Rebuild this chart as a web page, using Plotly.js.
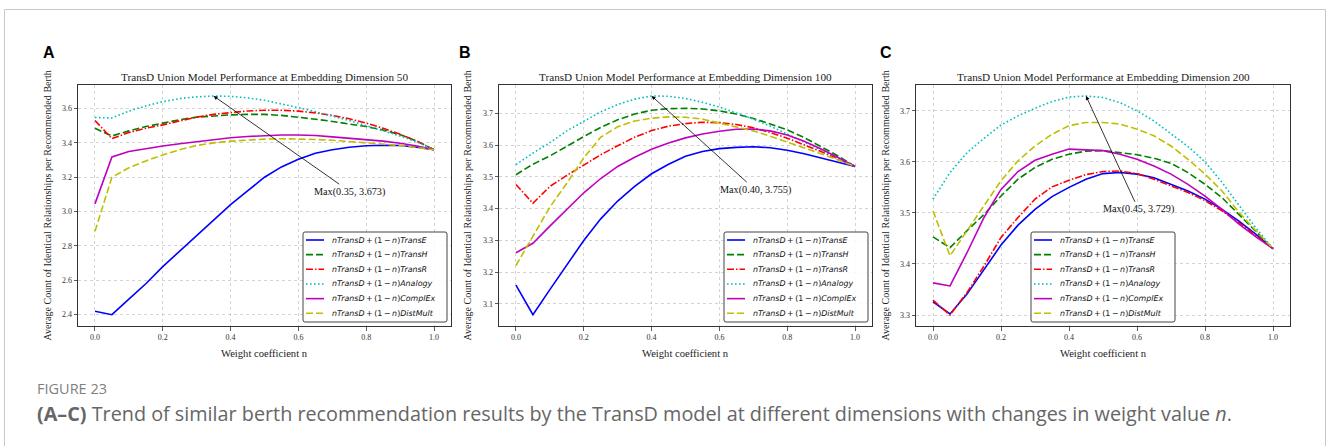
<!DOCTYPE html>
<html>
<head>
<meta charset="utf-8">
<script src="https://cdn.plot.ly/plotly-3.0.1.min.js"></script>
<style>html,body{margin:0;padding:0;background:#fff;}#chart{width:1328px;height:446px;}</style>
</head>
<body>
<div id="chart"></div>
<script>
// ---------------- DATA ----------------
const nValues = [0,0.05,0.1,0.15,0.2,0.25,0.3,0.35,0.4,0.45,0.5,0.55,0.6,0.65,0.7,0.75,0.8,0.85,0.9,0.95,1.0];

const seriesNames = ['TransE','TransH','TransR','Analogy','ComplEx','DistMult'];
const panelTitles = [
  'TransD Union Model Performance at Embedding Dimension 50',
  'TransD Union Model Performance at Embedding Dimension 100',
  'TransD Union Model Performance at Embedding Dimension 200'
];
const panelLetters = ['A','B','C'];
const maxPoints = [[0.35,3.673],[0.40,3.755],[0.45,3.729]];
const maxLabels = ['Max(0.35, 3.673)','Max(0.40, 3.755)','Max(0.45, 3.729)'];

// Dimension 50
const dim50TransE   = [2.42,2.40,2.49,2.58,2.68,2.77,2.86,2.95,3.04,3.12,3.20,3.26,3.305,3.34,3.36,3.375,3.383,3.386,3.385,3.375,3.36];
const dim50TransH   = [3.485,3.44,3.47,3.495,3.515,3.535,3.55,3.558,3.563,3.566,3.566,3.56,3.55,3.538,3.525,3.51,3.495,3.475,3.448,3.41,3.36];
const dim50TransR   = [3.53,3.425,3.46,3.485,3.505,3.528,3.55,3.566,3.578,3.586,3.59,3.59,3.585,3.575,3.56,3.54,3.515,3.485,3.45,3.41,3.36];
const dim50Analogy  = [3.548,3.545,3.585,3.615,3.64,3.658,3.668,3.673,3.671,3.662,3.648,3.628,3.605,3.582,3.558,3.53,3.50,3.47,3.44,3.405,3.36];
const dim50ComplEx  = [3.045,3.318,3.35,3.368,3.382,3.395,3.408,3.42,3.43,3.437,3.443,3.446,3.446,3.443,3.435,3.428,3.42,3.41,3.398,3.382,3.36];
const dim50DistMult = [2.885,3.20,3.255,3.295,3.33,3.36,3.385,3.40,3.41,3.418,3.422,3.424,3.424,3.42,3.415,3.408,3.40,3.393,3.385,3.373,3.36];

// Dimension 100
const dim100TransE   = [3.159,3.066,3.145,3.222,3.30,3.368,3.424,3.47,3.51,3.54,3.565,3.58,3.589,3.593,3.595,3.592,3.584,3.573,3.56,3.547,3.533];
const dim100TransH   = [3.507,3.54,3.566,3.597,3.627,3.656,3.68,3.698,3.71,3.715,3.716,3.714,3.708,3.698,3.684,3.667,3.648,3.624,3.596,3.566,3.533];
const dim100TransR   = [3.476,3.417,3.47,3.505,3.537,3.57,3.598,3.625,3.646,3.66,3.668,3.672,3.671,3.665,3.655,3.64,3.622,3.602,3.58,3.557,3.533];
const dim100Analogy  = [3.539,3.575,3.608,3.645,3.675,3.705,3.728,3.745,3.755,3.754,3.747,3.735,3.72,3.702,3.682,3.66,3.636,3.61,3.585,3.56,3.533];
const dim100ComplEx  = [3.261,3.291,3.345,3.398,3.45,3.495,3.533,3.562,3.587,3.607,3.623,3.635,3.644,3.65,3.651,3.645,3.632,3.612,3.588,3.561,3.533];
const dim100DistMult = [3.221,3.314,3.405,3.48,3.56,3.625,3.658,3.676,3.685,3.689,3.688,3.682,3.67,3.658,3.645,3.628,3.61,3.592,3.573,3.553,3.533];

// Dimension 200
const dim200TransE   = [3.326,3.302,3.341,3.39,3.437,3.476,3.507,3.532,3.55,3.566,3.577,3.579,3.576,3.569,3.556,3.543,3.527,3.507,3.484,3.458,3.43];
const dim200TransH   = [3.453,3.432,3.465,3.497,3.533,3.566,3.589,3.605,3.615,3.621,3.622,3.618,3.614,3.607,3.597,3.579,3.556,3.53,3.497,3.465,3.43];
const dim200TransR   = [3.329,3.30,3.344,3.396,3.452,3.491,3.527,3.551,3.564,3.575,3.581,3.582,3.577,3.566,3.553,3.54,3.524,3.504,3.481,3.455,3.43];
const dim200Analogy  = [3.527,3.579,3.618,3.646,3.672,3.69,3.705,3.718,3.727,3.729,3.726,3.716,3.70,3.68,3.655,3.63,3.60,3.56,3.515,3.47,3.43];
const dim200ComplEx  = [3.363,3.357,3.422,3.491,3.546,3.581,3.603,3.615,3.625,3.624,3.622,3.615,3.605,3.592,3.576,3.556,3.533,3.507,3.478,3.453,3.43];
const dim200DistMult = [3.504,3.416,3.465,3.514,3.563,3.602,3.631,3.654,3.671,3.677,3.677,3.674,3.664,3.651,3.631,3.605,3.576,3.543,3.501,3.465,3.43];

const panelData = [
  [dim50TransE, dim50TransH, dim50TransR, dim50Analogy, dim50ComplEx, dim50DistMult],
  [dim100TransE, dim100TransH, dim100TransR, dim100Analogy, dim100ComplEx, dim100DistMult],
  [dim200TransE, dim200TransH, dim200TransR, dim200Analogy, dim200ComplEx, dim200DistMult]
];

// ---------------- STYLE / LAYOUT ----------------
const W = 1328, H = 446;
const X = p => p / W;
const Y = p => 1 - p / H;

const styles = [
  {color:'#0000ff', dash:'solid'},
  {color:'#008000', dash:'7px,3px'},
  {color:'#ff0000', dash:'7px,2px,1.5px,2px'},
  {color:'#00bfbf', dash:'1.6px,2.4px'},
  {color:'#bf00bf', dash:'solid'},
  {color:'#bfbf00', dash:'7px,3px'}
];

const panels = [
  {x0:78,  x1:451,  yr:[2.334,3.737], dy:0.2, ylab:47,  letter:40.5, legX:303},
  {x0:499, x1:872,  yr:[3.0305,3.7895], dy:0.1, ylab:467, letter:457, legX:724},
  {x0:916, x1:1290, yr:[3.2785,3.7505], dy:0.1, ylab:885, letter:878, legX:1031}
];
const plotTop = 85, plotBot = 326;
const serif = 'Liberation Serif, Times New Roman, serif';
const TS = '\u2009';

const traces = [];
const layout = {
  width: W, height: H, autosize: false,
  margin: {l:0, r:0, t:0, b:0},
  paper_bgcolor: '#fff', plot_bgcolor: '#fff',
  showlegend: false,
  shapes: [], annotations: []
};

panels.forEach((pn, p) => {
  const sfx = p === 0 ? '' : String(p + 1);
  panelData[p].forEach((vals, s) => {
    traces.push({
      x: nValues, y: vals, type: 'scatter', mode: 'lines',
      xaxis: 'x' + sfx, yaxis: 'y' + sfx,
      line: {color: styles[s].color, width: 1.6, dash: styles[s].dash},
      hoverinfo: 'skip', showlegend: false
    });
  });
  const axCommon = {
    showline: true, mirror: true, linecolor: '#333', linewidth: 1,
    ticks: 'outside', ticklen: 3.5, tickcolor: '#333', tickwidth: 0.8,
    showgrid: true, gridcolor: '#c0c0c0', gridwidth: 0.7, griddash: 'dot',
    zeroline: false, tickfont: {family: serif, size: 8, color: '#333'},
    tickformat: '.1f', fixedrange: true
  };
  layout['xaxis' + sfx] = Object.assign({}, axCommon, {
    domain: [X(pn.x0), X(pn.x1)], range: [-0.05, 1.05], dtick: 0.2, tick0: 0,
    anchor: 'y' + sfx
  });
  layout['yaxis' + sfx] = Object.assign({}, axCommon, {
    domain: [Y(plotBot), Y(plotTop)], range: pn.yr, dtick: pn.dy, tick0: 0,
    anchor: 'x' + sfx
  });
  const cx = (pn.x0 + pn.x1) / 2;
  layout.annotations.push({xref:'paper', yref:'paper', x:X(cx), y:Y(77), text:panelTitles[p],
    showarrow:false, xanchor:'center', yanchor:'middle', font:{family:serif, size:11.2, color:'#222'}});
  layout.annotations.push({xref:'paper', yref:'paper', x:X(cx), y:Y(353), text:'Weight coefficient n',
    showarrow:false, xanchor:'center', yanchor:'middle', font:{family:serif, size:10.6, color:'#222'}});
  layout.annotations.push({xref:'paper', yref:'paper', x:X(pn.ylab), y:Y((plotTop+plotBot)/2),
    text:'Average Count of Identical Relationships per Recommended Berth', textangle:-90,
    showarrow:false, xanchor:'center', yanchor:'middle', font:{family:serif, size:10.1, color:'#222'}});
  layout.annotations.push({xref:'paper', yref:'paper', x:X(pn.letter), y:Y(52.5), text:'<b>'+panelLetters[p]+'</b>',
    showarrow:false, xanchor:'left', yanchor:'middle', font:{family:'Liberation Sans, Arial, sans-serif', size:16, color:'#000'}});
  const textPos = [[0.752,3.116],[0.705,3.46],[0.604,3.507]][p];
  layout.annotations.push({xref:'x'+sfx, yref:'y'+sfx, x:maxPoints[p][0], y:maxPoints[p][1],
    axref:'x'+sfx, ayref:'y'+sfx, ax:textPos[0], ay:textPos[1], text:maxLabels[p],
    showarrow:true, arrowhead:2, arrowsize:1, arrowwidth:0.8, arrowcolor:'#000',
    font:{family:serif, size:10.2, color:'#111'}});

  // legend
  const lx0 = pn.legX, lx1 = pn.legX + 144, ly0 = 232, ly1 = 322, r = 2;
  const rx = r / W, ry = r / H;
  const a = X(lx0), b = X(lx1), t = Y(ly0), u = Y(ly1);
  layout.shapes.push({type:'path', xref:'paper', yref:'paper',
    path:`M ${a+rx} ${t} L ${b-rx} ${t} Q ${b} ${t} ${b} ${t-ry} L ${b} ${u+ry} Q ${b} ${u} ${b-rx} ${u} L ${a+rx} ${u} Q ${a} ${u} ${a} ${u+ry} L ${a} ${t-ry} Q ${a} ${t} ${a+rx} ${t} Z`,
    fillcolor:'rgba(255,255,255,0.85)', line:{color:'#444', width:1}, layer:'above'});
  seriesNames.forEach((nm, s) => {
    const yy = 240 + 14.66 * s;
    layout.shapes.push({type:'line', xref:'paper', yref:'paper', x0:X(lx0+3), x1:X(lx0+21), y0:Y(yy), y1:Y(yy),
      line:{color:styles[s].color, width:1.6, dash:styles[s].dash}, layer:'above'});
    layout.annotations.push({xref:'paper', yref:'paper', x:X(lx0+27), y:Y(yy),
      text:'<i>nTransD</i>'+TS+'+'+TS+'(1'+TS+'−'+TS+'<i>n</i>)<i>' + nm + '</i>', showarrow:false,
      xanchor:'left', yanchor:'middle', font:{family:'DejaVu Sans, sans-serif', size:7.9, color:'#111'}});
  });
});

// outer frame
layout.shapes.push({type:'rect', xref:'paper', yref:'paper', x0:X(4.5), x1:X(1325.5), y0:-0.2, y1:Y(9.5),
  line:{color:'#c8c8c8', width:1}, fillcolor:'rgba(0,0,0,0)', layer:'below'});

// caption
layout.annotations.push({xref:'paper', yref:'paper', x:X(35), y:Y(388.5), text:'FIGURE 23',
  showarrow:false, xanchor:'left', yanchor:'middle', font:{family:'Open Sans, sans-serif', size:14.5, color:'#7f7f7f'}});
layout.annotations.push({xref:'paper', yref:'paper', x:X(35), y:Y(413), 
  text:'<b>(A–C)</b> Trend of similar berth recommendation results by the TransD model at different dimensions with changes in weight value <i>n</i>.',
  showarrow:false, xanchor:'left', yanchor:'middle', font:{family:'Open Sans, sans-serif', size:19.8, color:'#666'}});

Plotly.newPlot('chart', traces, layout, {staticPlot:true, displayModeBar:false});
</script>
</body>
</html>
